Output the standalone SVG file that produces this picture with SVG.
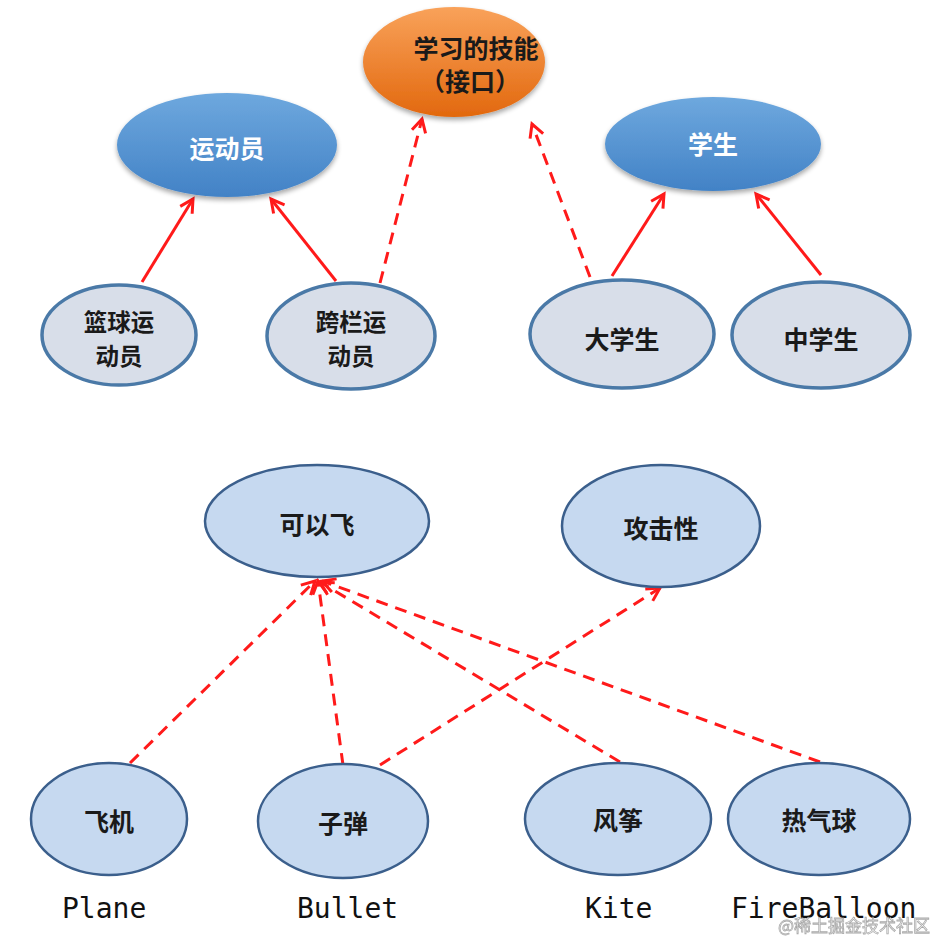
<svg xmlns="http://www.w3.org/2000/svg" width="938" height="940" viewBox="0 0 938 940">
<style>
.t{font-family:"Noto Sans CJK SC","Noto Sans",sans-serif;font-weight:bold;font-size:25px;text-anchor:middle;dominant-baseline:central}
.t2{font-size:23.5px}
.w{fill:#ffffff}
.k{fill:#1a1a1a}
.n1{fill:#d8dee9;stroke:#4a79a7;stroke-width:3.5}
.n2{fill:#c6d9f0;stroke:#3b5f8c;stroke-width:2.5}
.lbl{font-family:"DejaVu Sans Mono","Liberation Mono",monospace;font-size:28px;fill:#111}
.s{fill:none;stroke:#ff1a1a;stroke-width:3}
.d{fill:none;stroke:#ff1a1a;stroke-width:3;stroke-dasharray:12 8}
</style>
<defs>
<linearGradient id="gb" x1="0" y1="0" x2="0" y2="1">
<stop offset="0" stop-color="#6ea8de"/>
<stop offset="1" stop-color="#4282c6"/>
</linearGradient>
<linearGradient id="go" x1="0" y1="0" x2="0" y2="1">
<stop offset="0" stop-color="#f9a25a"/>
<stop offset="1" stop-color="#e2680e"/>
</linearGradient>
<filter id="sh" x="-20%" y="-20%" width="140%" height="150%">
<feGaussianBlur in="SourceAlpha" stdDeviation="2.5"/>
<feOffset dx="0" dy="3" result="b"/>
<feComponentTransfer><feFuncA type="linear" slope="0.35"/></feComponentTransfer>
<feMerge><feMergeNode/><feMergeNode in="SourceGraphic"/></feMerge>
</filter>
<marker id="ah" markerUnits="userSpaceOnUse" markerWidth="18" markerHeight="18" viewBox="0 0 18 18" refX="15" refY="9" orient="auto">
<path d="M2,2 L15,9 L2,16" fill="none" stroke="#ff1a1a" stroke-width="3" stroke-dasharray="none"/>
</marker>
</defs>
<rect width="938" height="940" fill="#ffffff"/>

<g id="connectors">
<line class="s" x1="142" y1="282" x2="193" y2="199" marker-end="url(#ah)"/>
<line class="s" x1="336" y1="281" x2="271" y2="199" marker-end="url(#ah)"/>
<line class="d" x1="380" y1="283" x2="422" y2="119" marker-end="url(#ah)"/>
<line class="d" x1="590" y1="277" x2="532" y2="124" marker-end="url(#ah)"/>
<line class="s" x1="612" y1="276" x2="664" y2="194" marker-end="url(#ah)"/>
<line class="s" x1="821" y1="275" x2="756" y2="194" marker-end="url(#ah)"/>
<line class="d" x1="130" y1="763" x2="315" y2="581" marker-end="url(#ah)"/>
<line class="d" x1="343" y1="765" x2="318" y2="581" marker-end="url(#ah)"/>
<line class="d" x1="380" y1="765" x2="660" y2="588" marker-end="url(#ah)"/>
<line class="d" x1="620" y1="762" x2="320" y2="582" marker-end="url(#ah)"/>
<line class="d" x1="820" y1="762" x2="322" y2="581" marker-end="url(#ah)"/>
</g>

<g id="node-interface">
<ellipse cx="454" cy="62" rx="91" ry="55" fill="url(#go)" filter="url(#sh)"/>
<text class="t k" x="476" y="47">学习的技能</text>
<text class="t k" x="470" y="80">（接口）</text>
</g>
<g id="node-athlete">
<ellipse cx="227" cy="145" rx="110" ry="52" fill="url(#gb)" filter="url(#sh)"/>
<text class="t w" x="227" y="147">运动员</text>
</g>
<g id="node-student">
<ellipse cx="713" cy="144" rx="108" ry="47" fill="url(#gb)" filter="url(#sh)"/>
<text class="t w" x="713" y="143">学生</text>
</g>
<g id="node-basketball">
<ellipse class="n1" cx="119" cy="335" rx="77" ry="50"/>
<text class="t t2 k" x="119" y="321">篮球运</text>
<text class="t t2 k" x="119" y="355">动员</text>
</g>
<g id="node-hurdler">
<ellipse class="n1" cx="351" cy="336" rx="84" ry="53"/>
<text class="t t2 k" x="351" y="321">跨栏运</text>
<text class="t t2 k" x="351" y="355">动员</text>
</g>
<g id="node-college">
<ellipse class="n1" cx="622" cy="334" rx="92" ry="54"/>
<text class="t k" x="622" y="338">大学生</text>
</g>
<g id="node-middle">
<ellipse class="n1" cx="821" cy="335" rx="89" ry="53"/>
<text class="t k" x="821" y="338">中学生</text>
</g>

<g id="node-fly">
<ellipse class="n2" cx="317" cy="521" rx="112" ry="56"/>
<text class="t k" x="317" y="523">可以飞</text>
</g>
<g id="node-attack">
<ellipse class="n2" cx="661" cy="526" rx="99" ry="61"/>
<text class="t k" x="661" y="527">攻击性</text>
</g>
<g id="node-plane">
<ellipse class="n2" cx="109" cy="819" rx="78" ry="56"/>
<text class="t k" x="109" y="820">飞机</text>
<text class="lbl" x="62" y="918">Plane</text>
</g>
<g id="node-bullet">
<ellipse class="n2" cx="343" cy="821" rx="85" ry="57"/>
<text class="t k" x="343" y="822">子弹</text>
<text class="lbl" x="297" y="918">Bullet</text>
</g>
<g id="node-kite">
<ellipse class="n2" cx="618" cy="819" rx="93" ry="56"/>
<text class="t k" x="618" y="819">风筝</text>
<text class="lbl" x="585" y="918">Kite</text>
</g>
<g id="node-balloon">
<ellipse class="n2" cx="819" cy="819" rx="91" ry="56"/>
<text class="t k" x="819" y="819">热气球</text>
<text class="lbl" x="731" y="918">FireBalloon</text>
</g>
<text x="930" y="932" text-anchor="end" font-family="Noto Sans CJK SC, sans-serif" font-size="17" fill="#ffffff" stroke="#9a9a9a" stroke-width="0.8" opacity="0.85">@稀土掘金技术社区</text>
</svg>
